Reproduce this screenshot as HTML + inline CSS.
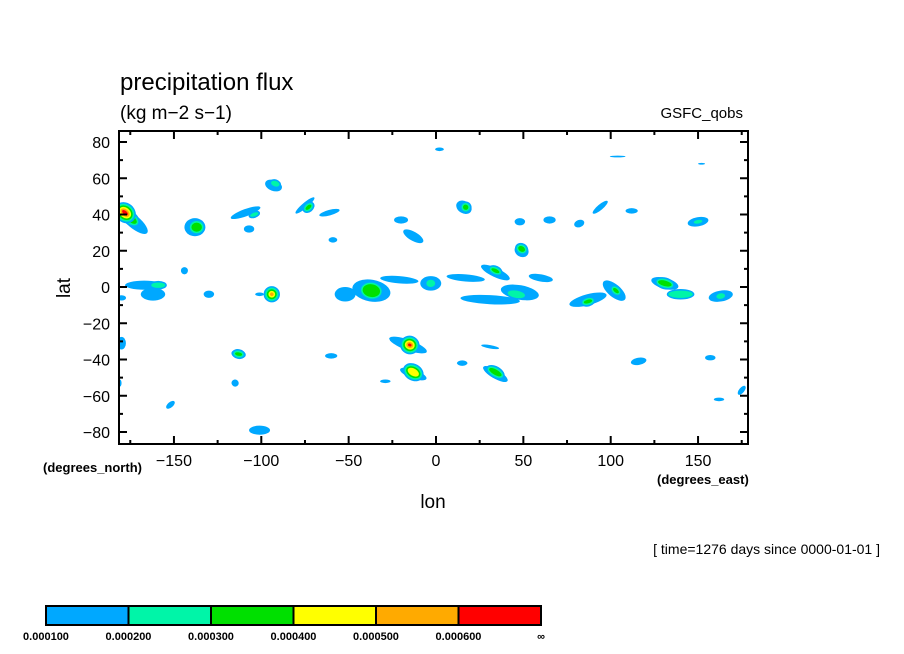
<!DOCTYPE html>
<html><head><meta charset="utf-8">
<style>
html,body{margin:0;padding:0;background:#fff;}
svg{display:block;font-family:"Liberation Sans",sans-serif;}
</style></head>
<body>
<svg id="chart" width="904" height="654" viewBox="0 0 904 654" xmlns="http://www.w3.org/2000/svg">
<text x="120" y="90" font-size="24">precipitation flux</text>
<text x="120" y="119" font-size="19">(kg m−2 s−1)</text>
<text x="743" y="118" font-size="15" text-anchor="end">GSFC_qobs</text>
<g id="blobs"></g>
<g id="axes"></g>
<text x="433" y="508" font-size="19" text-anchor="middle">lon</text>
<text x="70" y="288" font-size="19" text-anchor="middle" transform="rotate(-90 70 288)">lat</text>
<text x="43" y="472" font-size="13" font-weight="bold">(degrees_north)</text>
<text x="657" y="484" font-size="13" font-weight="bold">(degrees_east)</text>
<text x="880" y="554" font-size="14" text-anchor="end">[ time=1276 days since 0000-01-01 ]</text>
<g id="cbar"></g>
</svg>
<script>
// contour levels and colors
const levelLabels = ["0.000100","0.000200","0.000300","0.000400","0.000500","0.000600","∞"];
const levelColors = ["#00a8ff","#00f5a8","#00e000","#ffff00","#ffaa00","#ff0000"];
const lonTicks = [-150,-100,-50,0,50,100,150];
const latTicks = [-80,-60,-40,-20,0,20,40,60,80];
// precipitation features: center lon, lat, width (deg lon), height (deg lat), rotation (deg), level index
const blobLon = [-173,-175,-178,-138,-137,-93,-92,-109,-104,-107,-75,-73,-61,-59,-20,-13,16,17,48,65,82,94,112,150,150,2,104,152,
 -167,-162,-159,-144,-130,-101,-94,-94,-52,-37,-37,-21,-3,-3,17,34,34,31,48,46,60,49,49,87,87,102,103,131,131,140,163,163,
 -16,-16,-15,-13,-13,-29,31,34,34,15,-60,-113,-113,116,157,-180,-181,-101,-152,-115,162,175,-180,-183];
const blobLat = [36,38,41,33,33,56,57,41,40,32,45,44,41,26,37,28,44,44,36,37,35,44,42,36,36,76,72,68,
 1,-4,1,9,-4,-4,-4,-4,-4,-2,-2,4,2,2,5,8,9,-7,-3,-4,5,20,21,-7,-8,-2,-2,2,2,-4,-5,-5,
 -32,-32,-32,-48,-47,-52,-33,-48,-47,-42,-38,-37,-37,-41,-39,-31,-53,-79,-65,-53,-62,-57,-6,-33];
const blobW = [20,9,4,12,6,10,5,18,5,6,14,4,12,5,8,13,7,3,6,7,6,11,7,12,5,5,9,4,
 22,14,8,4,6,5,5,2,12,22,10,22,12,5,22,18,5,34,22,10,14,7,3,22,5,16,4,16,8,14,14,5,
 6,3,1.5,16,7,6,2,16,8,6,7,5,2,9,6,5,2,12,6,4,6,3,3,5];
const blobH = [7,4,2,10,5,6,3,4,2,4,3,2,3,3,4,5,9,3,4,4,4,3,3,5,2,2,1,1,
 5,7,3,4,4,2,4,2,8,12,7,4,8,4,4,5,2,5,8,4,4,8,4,6,2,7,2,6,3,4,6,3,
 22,7,2,5,4,2,10,5,3,3,3,8,4,4,3,7,4,5,3,4,2,6,5,4];
const blobRot = [-40,-40,-40,0,0,-20,-20,20,20,0,40,40,15,0,0,-30,60,60,0,0,20,40,0,10,10,0,0,0,
 0,0,0,0,0,0,45,45,0,-10,-10,-5,0,0,-5,-25,-25,-3,-10,-10,-10,60,60,15,15,-40,-40,-15,-15,0,10,10,
 70,70,70,-20,-30,0,80,-30,-30,0,0,80,80,10,0,0,0,0,40,60,0,-40,90,0];
const blobLevel = [0,2,5,0,2,0,1,0,1,0,0,2,0,0,0,0,0,2,0,0,0,0,0,0,1,0,0,0,
 0,0,1,0,0,0,0,4,0,0,2,0,0,1,0,0,2,0,0,1,0,0,2,0,2,0,2,0,2,1,0,1,
 0,2,5,0,3,0,0,0,2,0,0,0,2,0,0,0,0,0,0,0,0,0,0,0];

const NS="http://www.w3.org/2000/svg";
const X0=119,X1=748,Y0=131,Y1=444;
function xs(lon){return 436+lon*1.747;}
function ys(lat){return 287-lat*1.8125;}
function mk(tag,attrs,parent){const e=document.createElementNS(NS,tag);for(const k in attrs)e.setAttribute(k,attrs[k]);parent.appendChild(e);return e;}

const defs=mk('defs',{},document.getElementById('chart'));
const cp=mk('clipPath',{id:'plotclip'},defs);
mk('rect',{x:X0,y:Y0,width:X1-X0,height:Y1-Y0},cp);
const bg=document.getElementById('blobs');
bg.setAttribute('clip-path','url(#plotclip)');
for(let lv=0;lv<6;lv++){
 for(let i=0;i<blobLon.length;i++){
  if(blobLevel[i]!==lv)continue;
  const cx=xs(blobLon[i]),cy=ys(blobLat[i]);
  const rx=blobW[i]*1.747/2,ry=blobH[i]*1.8125/2;
  if(lv>0){
   for(let k=0;k<lv;k++){
     const g=(lv-k)*1.6;
     const r=mk('ellipse',{cx:cx,cy:cy,rx:rx+g,ry:ry+g,fill:levelColors[k],transform:`rotate(${-blobRot[i]} ${cx} ${cy})`},bg);
     
     
   }
  }
  const el=mk('ellipse',{cx:cx,cy:cy,rx:rx,ry:ry,fill:levelColors[lv],transform:`rotate(${-blobRot[i]} ${cx} ${cy})`},bg);
  
  
 }
}

const ax=document.getElementById('axes');
const frame=mk('rect',{x:X0,y:Y0,width:X1-X0,height:Y1-Y0,fill:'none',stroke:'#000','stroke-width':2},ax);


for(let lon=-175;lon<=175;lon+=25){
 const x=xs(lon);const major=lonTicks.includes(lon);const L=major?8:4;
 mk('line',{x1:x,x2:x,y1:Y1,y2:Y1-L,stroke:'#000','stroke-width':2},ax);
 mk('line',{x1:x,x2:x,y1:Y0,y2:Y0+L,stroke:'#000','stroke-width':2},ax);
}
for(const lon of lonTicks){
 const t=mk('text',{x:xs(lon),y:466,'font-size':16,'text-anchor':'middle'},ax);
 t.textContent=(lon<0?'−':'')+Math.abs(lon);
 
 
}
for(let lat=-80;lat<=80;lat+=10){
 const y=ys(lat);const major=latTicks.includes(lat);const L=major?8:4;
 mk('line',{x1:X0,x2:X0+L,y1:y,y2:y,stroke:'#000','stroke-width':2},ax);
 mk('line',{x1:X1,x2:X1-L,y1:y,y2:y,stroke:'#000','stroke-width':2},ax);
}
for(const lat of latTicks){
 const t=mk('text',{x:110,y:ys(lat)+6,'font-size':16,'text-anchor':'end'},ax);
 t.textContent=(lat<0?'−':'')+Math.abs(lat);
 
 
}

const cb=document.getElementById('cbar');
const cbx=46,cbw=495/6;
for(let i=0;i<6;i++){
 const r=mk('rect',{x:cbx+i*cbw,y:606,width:cbw,height:19,fill:levelColors[i],stroke:'#000','stroke-width':2},cb);
 
 
}
for(let i=0;i<levelLabels.length;i++){
 const t=mk('text',{x:cbx+i*cbw,y:640,'font-size':11,'font-weight':'bold','text-anchor':'middle'},cb);
 t.textContent=levelLabels[i];
 
 
}
</script>
</body></html>
